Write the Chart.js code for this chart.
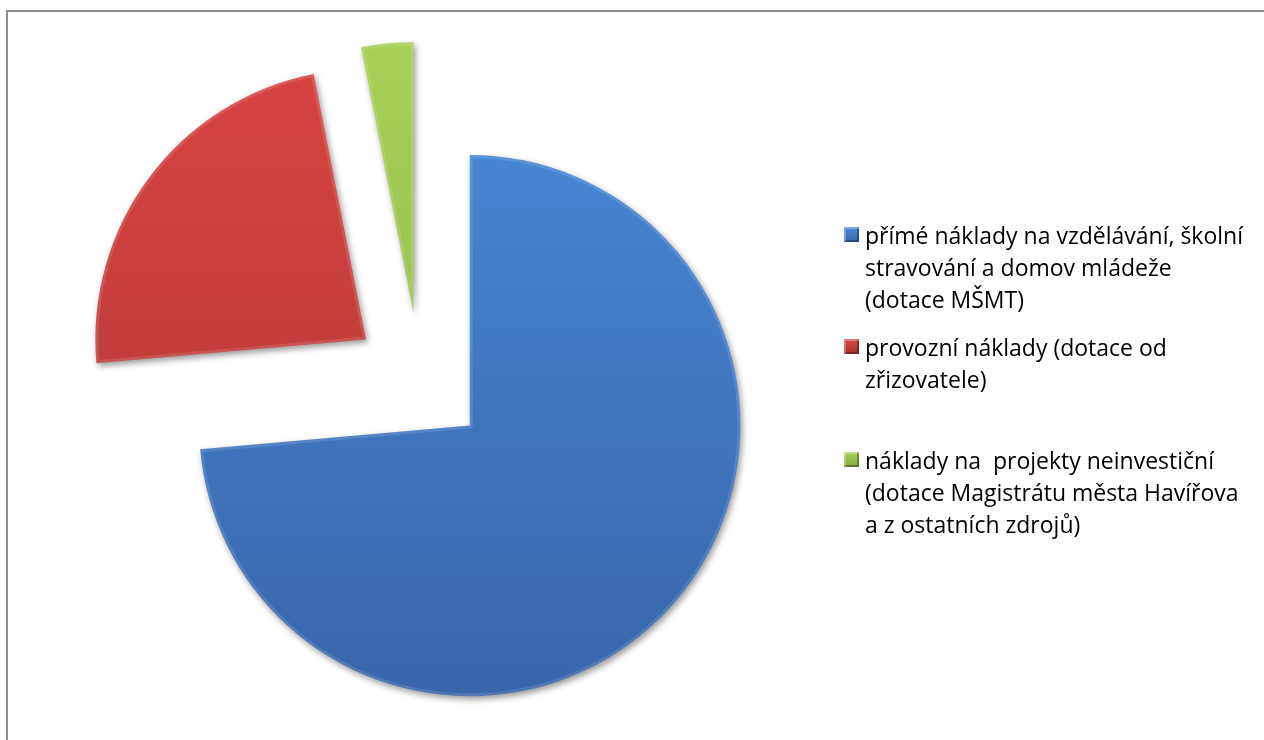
<!DOCTYPE html>
<html>
<head>
<meta charset="utf-8">
<script src="https://cdn.jsdelivr.net/npm/chart.js@4.4.1/dist/chart.umd.min.js"></script>
<style>
html, body { margin: 0; padding: 0; background: #fff; overflow: hidden; }
#wrap { position: relative; width: 1264px; height: 740px; overflow: hidden; }
#frame { position: absolute; left: 6px; top: 10px; width: 1400px; height: 900px;
  border-left: 2px solid #8e8e8e; border-top: 2px solid #8e8e8e; }
#pie { position: absolute; left: 0; top: 0; filter: drop-shadow(2px 3px 3px rgba(0,0,0,0.4)); }
#legend { position: absolute; left: 844px; top: 0; font-family: "Open Sans", sans-serif;
  font-size: 23px; line-height: 32px; color: #000; }
.item { position: absolute; left: 0; padding-left: 21px; white-space: pre; }
.box { position: absolute; left: 0; top: 8px; width: 15px; height: 15px; box-sizing: border-box;
  box-shadow: inset 2px 2px 0 rgba(255,255,255,0.3), inset -2px -2px 0 rgba(0,0,0,0.3); }
</style>
</head>
<body>
<div id="wrap">
  <div id="frame"></div>
  <canvas id="pie" width="1264" height="740"></canvas>
  <div id="legend"></div>
</div>
<script>
// data (share of costs, %)
const categories = [
  ["přímé náklady na vzdělávání, školní", "stravování a domov mládeže", "(dotace MŠMT)"],
  ["provozní náklady (dotace od", "zřizovatele)"],
  ["náklady na  projekty neinvestiční", "(dotace Magistrátu města Havířova", "a z ostatních zdrojů)"]
];
const values = [73.6, 23.3, 3.1];

const topColors = ["#4a8cdb", "#da4442", "#a8d058"];
const bottomColors = ["#3764a8", "#a63431", "#86aa3c"];
const legendTops = [219, 331, 444];
const EXPLODE = 67.5;

// vertical light-to-dark fill over the whole pie
function sliceFill(context) {
  const chart = context.chart;
  const area = chart.chartArea;
  const i = context.dataIndex;
  if (!area) return topColors[i];
  const cy = (area.top + area.bottom) / 2;
  const g = chart.ctx.createLinearGradient(0, cy - 340, 0, cy + 340);
  g.addColorStop(0, topColors[i]);
  g.addColorStop(1, bottomColors[i]);
  return g;
}

// pull every slice out along its middle angle by the same distance
const explodePlugin = {
  id: "explode",
  afterDatasetsUpdate(chart) {
    chart.getDatasetMeta(0).data.forEach(arc => {
      const mid = (arc.startAngle + arc.endAngle) / 2;
      arc.x += Math.cos(mid) * EXPLODE;
      arc.y += Math.sin(mid) * EXPLODE;
    });
  }
};

new Chart(document.getElementById("pie"), {
  type: "pie",
  data: {
    labels: categories.map(l => l.join(" ")),
    datasets: [{
      data: values,
      backgroundColor: sliceFill,
      borderColor: "rgba(255,255,255,0.12)",
      borderWidth: 3,
      borderAlign: "inner"
    }]
  },
  options: {
    responsive: false,
    animation: false,
    radius: 271,
    layout: { padding: { left: 0, right: 424, top: 20, bottom: 0 } },
    plugins: {
      legend: { display: false },
      tooltip: { enabled: false }
    }
  },
  plugins: [explodePlugin]
});

// legend
const legend = document.getElementById("legend");
categories.forEach((lines, i) => {
  const item = document.createElement("div");
  item.className = "item";
  item.style.top = legendTops[i] + "px";
  const box = document.createElement("span");
  box.className = "box";
  box.style.background = "linear-gradient(" + topColors[i] + "," + bottomColors[i] + ")";
  item.appendChild(box);
  item.appendChild(document.createTextNode(lines.join("\n")));
  legend.appendChild(item);
});
</script>
</body>
</html>
